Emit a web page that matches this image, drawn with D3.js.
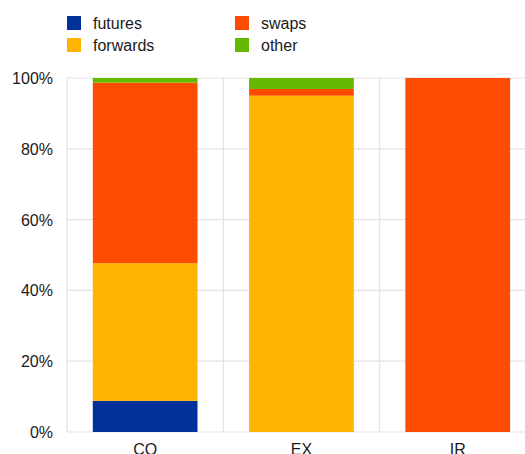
<!DOCTYPE html>
<html><head><meta charset="utf-8">
<script src="https://cdn.jsdelivr.net/npm/d3@7"></script>
<style>body{margin:0;background:#fff}svg{display:block;font-family:"Liberation Sans",Arial,sans-serif}</style>
</head><body><svg id="c" width="525" height="454"></svg>
<script>
const categories = ["CO", "EX", "IR"];
const seriesNames = ["futures", "forwards", "swaps", "other"];
const futures  = [8.8, 0, 0];
const forwards = [38.9, 95.0, 0];
const swaps    = [51.0, 1.9, 100];
const other    = [1.3, 3.1, 0];
const yTicks = [0, 20, 40, 60, 80, 100];
const colors = ["#003299", "#ffb400", "#ff4b00", "#65b800"];

const svg = d3.select("#c");
const m = {left: 67, top: 78, bottom: 432};
const step = 156.3;
const x = d3.scaleBand().domain(categories).range([m.left, m.left + step * categories.length]).paddingInner(0.33).paddingOuter(0.165);
const xb = d3.scaleBand().domain(categories).range([m.left, m.left + step * categories.length]);
const y = d3.scaleLinear().domain([0, 100]).range([m.bottom, m.top]);

// grid
const g = svg.append("g");
g.selectAll(".hg").data(yTicks).join("line")
  .attr("x1", m.left).attr("x2", 525).attr("y1", d => y(d)).attr("y2", d => y(d))
  .attr("stroke", "#e3e3e3").attr("stroke-width", 1.2);
g.selectAll(".vg").data(categories.map((c, i) => i)).join("line")
  .attr("x1", i => xb.range()[0] + i * xb.step()).attr("x2", i => xb.range()[0] + i * xb.step())
  .attr("y1", m.top).attr("y2", m.bottom)
  .attr("stroke", "#e3e3e3").attr("stroke-width", 1.2);

// stacked data
const table = categories.map((c, i) => ({cat: c, futures: futures[i], forwards: forwards[i], swaps: swaps[i], other: other[i]}));
const stack = d3.stack().keys(seriesNames)(table);
svg.append("g").selectAll("g").data(stack).join("g")
  .attr("fill", (d, i) => colors[i])
  .selectAll("rect").data(d => d).join("rect")
  .attr("x", d => x(d.data.cat)).attr("width", x.bandwidth())
  .attr("y", d => y(d[1])).attr("height", d => Math.max(0, y(d[0]) - y(d[1])));

// y axis labels
svg.append("g").selectAll("text").data(yTicks).join("text")
  .attr("x", 53).attr("y", d => y(d) + 6).attr("text-anchor", "end")
  .attr("font-size", 16).attr("fill", "#1a1a1a").text(d => d + "%");

// x labels
svg.append("g").selectAll("text").data(categories).join("text")
  .attr("x", d => xb(d) + xb.bandwidth() / 2).attr("y", 455).attr("text-anchor", "middle")
  .attr("font-size", 16).attr("fill", "#1a1a1a").text(d => d);

// legend
const leg = svg.append("g");
const legPos = [[67, 16], [67, 38], [235, 16], [235, 38]];
seriesNames.forEach((s, i) => {
  const [lx, ly] = legPos[i];
  leg.append("rect").attr("x", lx).attr("y", ly).attr("width", 14).attr("height", 14).attr("fill", colors[i]);
  leg.append("text").attr("x", lx + 26).attr("y", ly + 12.5).attr("font-size", 16).attr("fill", "#1a1a1a").text(s);
});
</script></body></html>
